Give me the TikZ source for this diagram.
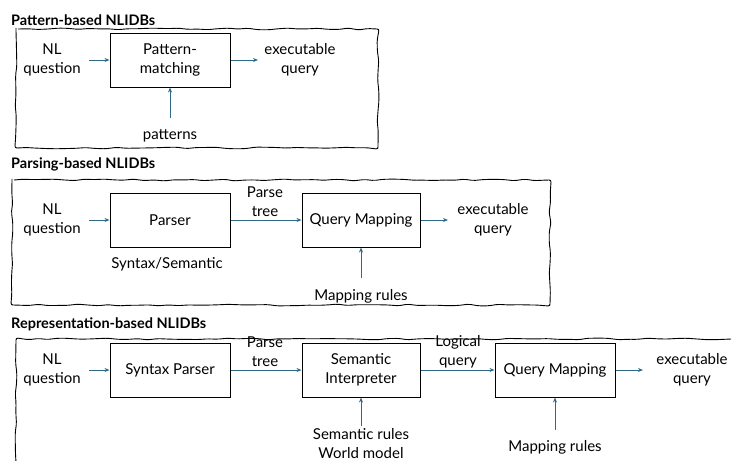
\documentclass[tikz,border=0pt]{standalone}
\usepackage{fontspec}
\setmainfont{Lato}
\usetikzlibrary{arrows.meta,decorations.pathmorphing}
\definecolor{arr}{HTML}{2E6A88}
\begin{document}
\begin{tikzpicture}[x=1pt,y=-1pt,
  every node/.style={font=\fontsize{15}{19}\selectfont, inner sep=0pt},
  txt/.style={align=center},
  title/.style={font=\fontsize{14.5}{17}\selectfont\bfseries, anchor=west},
  procbox/.style={draw=black, line width=1pt, minimum width=120pt, minimum height=54pt, align=center},
  flow/.style={draw=arr, line width=1pt, -{Stealth[length=5pt,width=4pt]}},
  wavy/.style={draw=black, line width=0.9pt, rounded corners=2pt, decorate, decoration={random steps, segment length=10pt, amplitude=0.9pt}}]
\pgfmathsetseed{7}
\useasboundingbox (0,0) rectangle (732,461);

% ---------- Section 1 ----------
\node[title] (t1) at (11,20) {Pattern-based NLIDBs};
\draw[wavy] (16,29) -- (378,29) -- (378,148) -- (16,148) -- cycle;
\node[procbox] (pm) at (170,60) {Pattern-\\matching};
\node[txt] (nl1) at (52,60) {NL\\question};
\node[txt] (eq1) at (300,60) {executable\\query};
\node (pat) at (170,136) {patterns};
\coordinate (pat1) at (170,118);
\draw[flow] (89,60) -- (pm.west);
\draw[flow] (pm.east) -- (258,60);
\draw[flow] (pat1) -- (pm.south);

% ---------- Section 2 ----------
\node[title] (t2) at (11,164) {Parsing-based NLIDBs};
\draw[wavy] (12,180) -- (550,180) -- (550,305) -- (12,305) -- cycle;
\node[procbox] (parser) at (170,220) {Parser};
\node[procbox, minimum width=118pt] (qm2) at (361,220) {Query Mapping};
\node[txt] (nl2) at (52,220) {NL\\question};
\node[txt] (pt2) at (265,202) {Parse\\tree};
\node[txt] (eq2) at (493,220) {executable\\query};
\node (ss) at (167,264) {Syntax/Semantic};
\node (mr2) at (361,296) {Mapping rules};
\coordinate (mr2a) at (361,278);
\draw[flow] (89,220) -- (parser.west);
\draw[flow] (parser.east) -- (qm2.west);
\draw[flow] (qm2.east) -- (448,220);
\draw[flow] (mr2a) -- (qm2.south);

% ---------- Section 3 ----------
\node[title] (t3) at (11,324) {Representation-based NLIDBs};
\draw[wavy] (16,463) -- (16,339) -- (731,339);
\node[procbox] (sp) at (170,370) {Syntax Parser};
\node[procbox, minimum width=118pt] (si) at (361,370) {Semantic\\Interpreter};
\node[procbox] (qm3) at (555,370) {Query Mapping};
\node[txt] (nl3) at (52,370) {NL\\question};
\node[txt] (pt3) at (265,352) {Parse\\tree};
\node[txt] (lq) at (458,352) {Logical\\query};
\node[txt] (eq3) at (692,370) {executable\\query};
\node[txt] (sr) at (361,444) {Semantic rules\\World model};
\node (mr3) at (555,447) {Mapping rules};
\coordinate (sra) at (361,426);
\coordinate (mr3a) at (555,430);
\draw[flow] (89,370) -- (sp.west);
\draw[flow] (sp.east) -- (si.west);
\draw[flow] (si.east) -- (qm3.west);
\draw[flow] (qm3.east) -- (643,370);
\draw[flow] (sra) -- (si.south);
\draw[flow] (mr3a) -- (qm3.south);
\end{tikzpicture}
\end{document}
